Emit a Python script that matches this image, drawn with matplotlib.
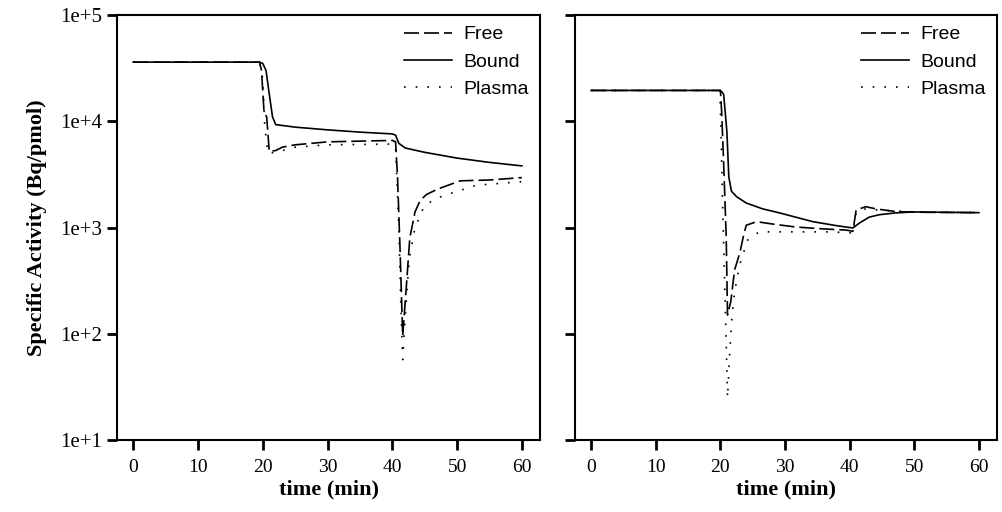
import matplotlib.pyplot as plt

# left panel
t_bound_l = [0, 19.5, 20, 20.5, 21, 21.5, 22, 25, 30, 35, 40, 40.5, 41, 42, 45, 50, 55, 60]
bound_l = [36000, 36000, 35000, 30000, 18000, 11000, 9300, 8800, 8300, 7900, 7600, 7400, 6200, 5600, 5100, 4500, 4100, 3800]

t_free_l = [0, 19.5, 19.8, 20.2, 20.6, 21, 22, 23, 25, 30, 35, 40, 40.5, 40.8, 41.2, 41.6,
            42.2, 42.7, 43.5, 44.3, 45.3, 47, 49, 50.5, 55, 60]
free_l = [36000, 36000, 30000, 12000, 11000, 5200, 5300, 5700, 6000, 6400, 6500, 6600, 6400, 3000, 600, 95,
          300, 800, 1400, 1800, 2050, 2300, 2550, 2750, 2800, 2950]

t_plasma_l = [0, 19.5, 20, 20.3, 20.8, 22, 25, 30, 40, 40.5, 41, 41.3, 41.6, 42, 42.6, 43.5, 44.9,
              46.5, 48.4, 53, 60]
plasma_l = [36000, 36000, 25000, 9000, 5000, 5100, 5700, 6000, 6100, 5800, 1000, 200, 57, 150, 500, 1000, 1580,
            1850, 2040, 2500, 2700]

# right panel
t_bound_r = [0, 20, 20.5, 21, 21.3, 21.7, 22.5, 24, 26.5, 29.2, 34.3, 38, 40.5, 41.5, 43, 44.6, 47, 49.7, 55, 60]
bound_r = [19500, 19500, 18000, 8000, 3000, 2200, 1950, 1700, 1500, 1370, 1135, 1040, 990, 1100, 1250, 1320,
           1370, 1400, 1390, 1380]

t_free_r = [0, 20, 20.2, 20.5, 20.9, 21.1, 21.6, 22.2, 23, 23.6, 24, 25.6, 28, 31.7, 36, 39.5, 40.5, 41,
            42.5, 44, 47.2, 52, 60]
free_r = [19500, 19500, 12000, 4000, 800, 150, 200, 400, 575, 850, 1050, 1135, 1080, 1010, 970, 945, 920, 1460,
          1570, 1500, 1410, 1390, 1380]

t_plasma_r = [0, 19.9, 20.1, 20.3, 20.6, 20.9, 21.1, 21.4, 21.8, 22.2, 23, 24.2, 26, 30, 37, 40.2, 40.6, 41,
              42.5, 45, 50, 60]
plasma_r = [19500, 19500, 8000, 2000, 400, 80, 25, 60, 150, 250, 450, 760, 910, 910, 910, 890, 870, 1400,
            1500, 1450, 1400, 1380]

xticks = [0, 10, 20, 30, 40, 50, 60]
yticks = [1e1, 1e2, 1e3, 1e4, 1e5]
ytick_labels = ['1e+1', '1e+2', '1e+3', '1e+4', '1e+5']

serif = 'Liberation Serif'
sans = 'Liberation Sans'

fig = plt.figure(figsize=(10.03, 5.12), dpi=100)
ax1 = fig.add_axes([0.1167, 0.1406, 0.4217, 0.8301])
ax2 = fig.add_axes([0.5733, 0.1406, 0.4207, 0.8301])

panels = [
    (ax1, t_free_l, free_l, t_bound_l, bound_l, t_plasma_l, plasma_l),
    (ax2, t_free_r, free_r, t_bound_r, bound_r, t_plasma_r, plasma_r),
]

for ax, tf, f, tb, b, tp, p in panels:
    ax.plot(tf, f, color='black', lw=1.2, dashes=(9, 3), label='Free')
    ax.plot(tb, b, color='black', lw=1.2, label='Bound')
    ax.plot(tp, p, color='black', lw=1.2, dashes=(1, 6), label='Plasma')
    ax.set_yscale('log')
    ax.set_ylim(1e1, 1e5)
    ax.set_xlim(-2.5, 62.8)
    ax.set_xticks(xticks)
    ax.set_xticklabels([str(v) for v in xticks], fontfamily=serif, fontsize=14)
    ax.set_yticks(yticks)
    ax.minorticks_off()
    ax.tick_params(direction='out', length=7, width=2)
    ax.tick_params(axis='x', pad=7)
    for s in ax.spines.values():
        s.set_linewidth(1.5)
    ax.set_xlabel('time (min)', fontfamily=serif, fontsize=16, fontweight='bold', labelpad=2)
    ax.legend(loc='upper right', frameon=False, prop={'family': sans, 'size': 14},
              handlelength=2.5, handletextpad=0.6, labelspacing=0.5, borderaxespad=0.15)

ax1.set_yticklabels(ytick_labels, fontfamily=serif, fontsize=15)
ax2.set_yticklabels([])
ax1.set_ylabel('Specific Activity (Bq/pmol)', fontfamily=serif, fontsize=16, fontweight='bold', labelpad=10)

plt.savefig('out.png', dpi=100)
